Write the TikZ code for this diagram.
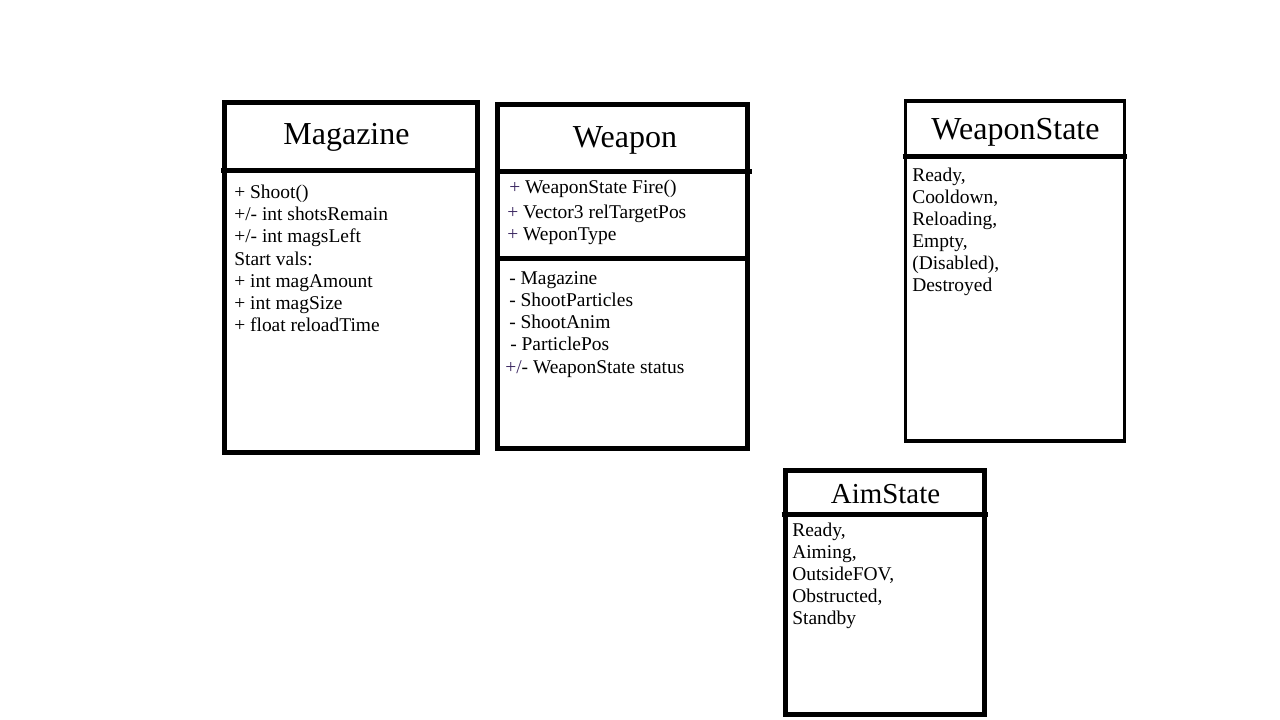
\documentclass[tikz,border=0pt]{standalone}
\usepackage{fontspec}
\setmainfont{Liberation Serif}
\usepackage{xcolor}
\usetikzlibrary{positioning}
\definecolor{plusviolet}{RGB}{58,38,96}
\tikzset{
  classbox/.style={black, line width=3.75pt},
  thinbox/.style={black, line width=2.55pt},
  classtitle/.style={anchor=base, inner sep=0pt, font=\fontsize{24}{28}\selectfont},
  field/.style={anchor=base west, inner sep=0pt, font=\fontsize{14.6}{17}\selectfont},
}
\newcommand\vplus{{\color{plusviolet}+}}

\begin{document}
\begin{tikzpicture}[x=0.75pt, y=-0.75pt]
				\useasboundingbox (0,0) rectangle (1280,720);
				% Magazine
				\draw[classbox] (224.8,102.5) rectangle (477.5,452.2);
				\draw[classbox] (221,171)--(477.5,171);
				\node[classtitle] (magtitle) at (346.5,145) {Magazine};
				\foreach \t [count=\i from 0] in {{+ Shoot()}, {+/- int shotsRemain}, {+/- int magsLeft}, {Start vals:}, {+ int magAmount}, {+ int magSize}, {+ float reloadTime}}
					\node[field] (mag\i) at (234,199+22*\i) {\t};
				% Weapon
				\draw[classbox] (497.5,104.2) rectangle (747.5,448.3);
				\draw[classbox] (497.5,171.5)--(752,171.5);
				\draw[classbox] (497.5,258.7)--(747.5,258.7);
				\node[classtitle] (weptitle) at (625,148) {Weapon};
				\foreach \x/\y/\t [count=\i] in {509/194/{\vplus\ WeaponState Fire()}, 507/218.5/{\vplus\ Vector3 relTargetPos}, 507/241/{\vplus\ WeponType}, 509/284/{- Magazine}, 509/306/{- ShootParticles}, 509/328/{- ShootAnim}, 510/350/{- ParticlePos}, 505/373/{{\color{plusviolet}+/}- WeaponState status}}
					\node[field] (wep\i) at (\x,\y) {\t};
				% WeaponState
				\draw[thinbox] (905.5,101) rectangle (1124.7,441);
				\draw[classbox, line width=3.5pt] (902.7,156.7)--(1127,156.7);
				\node[classtitle] (wstitle) at (1015.5,139.5) {WeaponState};
				\foreach \t [count=\i from 0] in {{Ready,}, {Cooldown,}, {Reloading,}, {Empty,}, {(Disabled),}, {Destroyed}}
					\node[field] (ws\i) at (912,181.7+22*\i) {\t};
				% AimState
				\draw[classbox] (785.8,470.8) rectangle (984.2,714.2);
				\draw[classbox] (781.7,514.3)--(988,514.3);
				\node[classtitle, font=\fontsize{21.7}{26}\selectfont] (aimtitle) at (885.5,503) {AimState};
				\foreach \t [count=\i from 0] in {{Ready,}, {Aiming,}, {OutsideFOV,}, {Obstructed,}, {Standby}}
					\node[field] (aim\i) at (792,536.5+22*\i) {\t};
\end{tikzpicture}
\end{document}
